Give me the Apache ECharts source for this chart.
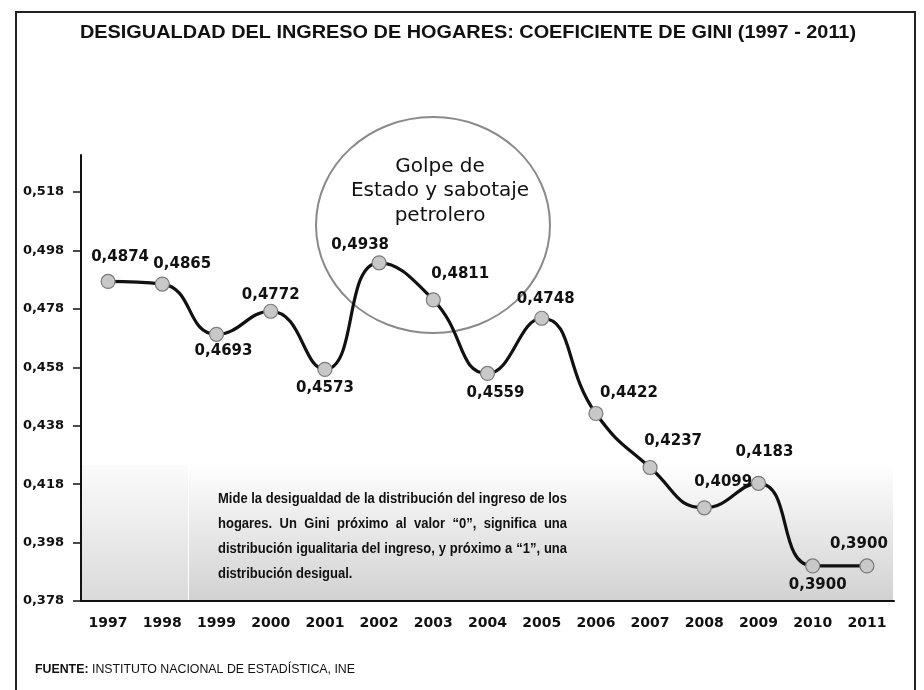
<!DOCTYPE html>
<html>
<head>
<meta charset="utf-8">
<title>Coeficiente de Gini 1997 - 2011</title>
<script src="https://cdn.jsdelivr.net/npm/echarts@6/dist/echarts.min.js"></script>
<style>
  html, body { margin: 0; padding: 0; background: #fff; }
  #chart { width: 924px; height: 690px; }
</style>
</head>
<body>
<div id="chart"></div>
<script>
// datos
const years = ['1997', '1998', '1999', '2000', '2001', '2002', '2003', '2004',
  '2005', '2006', '2007', '2008', '2009', '2010', '2011'];
const gini = [0.4874, 0.4865, 0.4693, 0.4772, 0.4573, 0.4938, 0.4811, 0.4559,
  0.4748, 0.4422, 0.4237, 0.4099, 0.4183, 0.3900, 0.3900];
const yTicks = [0.378, 0.398, 0.418, 0.438, 0.458, 0.478, 0.498, 0.518];

// textos
const titleText = 'DESIGUALDAD DEL INGRESO DE HOGARES: COEFICIENTE DE GINI (1997 - 2011)';
const bubbleText = 'Golpe de\nEstado y sabotaje\npetrolero';
const sourceLabel = 'FUENTE:';
const sourceText = ' INSTITUTO NACIONAL DE ESTADÍSTICA, INE';
const noteLines = [
  'Mide la desigualdad de la distribución del ingreso de los',
  'hogares. Un Gini próximo al valor “0”, significa una',
  'distribución igualitaria del ingreso, y próximo a “1”, una',
  'distribución desigual.'
];

// posición de cada etiqueta respecto a su punto (px)
const labelOffsets = [
  [12, -24], [20, -20], [7, 17], [0, -16], [0, 19], [-19, -18], [27, -26], [8, 20],
  [4, -19], [33, -20], [23, -26], [19, -26], [6, -31], [5, 19], [-8, -22]
];

const arial = '"Liberation Sans", Arial, sans-serif';
const verdana = '"DejaVu Sans", Verdana, sans-serif';

// medir texto (para estrechar la letra como Arial Narrow y justificar)
const ctx = document.createElement('canvas').getContext('2d');
const measure = (txt, font) => { ctx.font = font; return ctx.measureText(txt).width; };

// caja de texto justificada
const justify = (lines, x, y0, width, lineH, size) => {
  const font = `bold ${size}px ${arial}`;
  const sx = width / measure(lines[0], font);
  const out = [];
  lines.forEach((line, li) => {
    const words = line.split(' ');
    const widths = words.map(w => measure(w, font) * sx);
    const total = widths.reduce((a, b) => a + b, 0);
    const last = li === lines.length - 1;
    const gap = last ? measure(' ', font) * sx : (width - total) / (words.length - 1);
    let cx = x;
    words.forEach((w, i) => {
      out.push({
        type: 'text', silent: true, z: 5,
        x: cx, y: y0 + li * lineH, scaleX: sx,
        style: { text: w, font, fill: '#111', textVerticalAlign: 'middle' }
      });
      cx += widths[i] + gap;
    });
  });
  return out;
};

const titleFont = `bold 19px ${arial}`;
const titleScale = 776 / measure(titleText, titleFont);
const srcBold = `bold 12px ${arial}`;
const srcFont = `12px ${arial}`;
const srcScale = 320 / (measure(sourceLabel, srcBold) + measure(sourceText, srcFont));

const chart = echarts.init(document.getElementById('chart'));

const option = {
  animation: false,
  backgroundColor: '#fff',
  grid: { left: 81, right: 30, top: 155, bottom: 89 },
  xAxis: {
    type: 'category',
    data: years,
    boundaryGap: true,
    axisLine: { lineStyle: { color: '#111', width: 2 } },
    axisTick: { length: 6, lineStyle: { color: '#111', width: 1.5 } },
    axisLabel: {
      color: '#111', fontFamily: verdana, fontWeight: 'bold', fontSize: 14, margin: 15
    },
    splitLine: { show: false }
  },
  yAxis: {
    type: 'value',
    min: 0.378,
    max: 0.5307,
    axisLine: { show: true, lineStyle: { color: '#111', width: 2 } },
    axisTick: {
      show: true, length: 8, customValues: yTicks,
      lineStyle: { color: '#111', width: 1.5 }
    },
    axisLabel: {
      customValues: yTicks,
      color: '#111', fontFamily: verdana, fontWeight: 'bold', fontSize: 13, margin: 17,
      formatter: v => v.toFixed(3).replace('.', ',')
    },
    splitLine: { show: false }
  },
  series: [{
    type: 'line',
    smooth: true,
    z: 3,
    data: gini.map((v, i) => ({ value: v, label: { offset: labelOffsets[i] } })),
    lineStyle: { color: '#111', width: 3.2 },
    symbol: 'circle',
    symbolSize: 14,
    itemStyle: { color: '#c8c8c8', borderColor: '#7a7a7a', borderWidth: 1.2 },
    label: {
      show: true,
      position: 'inside',
      color: '#111',
      fontFamily: verdana,
      fontWeight: 'bold',
      fontSize: 15,
      formatter: p => p.value.toFixed(4).replace('.', ',')
    }
  }],
  graphic: [
    // marco
    {
      type: 'rect', silent: true, z: -20,
      shape: { x: 16, y: 12, width: 899, height: 700 },
      style: { fill: '#fff', stroke: '#222', lineWidth: 2 }
    },
    // fondo degradado de la nota
    {
      type: 'rect', silent: true, z: -10,
      shape: { x: 82, y: 465, width: 106, height: 135 },
      style: {
        fill: new echarts.graphic.LinearGradient(0, 0, 0, 1, [
          { offset: 0, color: '#fbfbfb' }, { offset: 1, color: '#dadada' }
        ])
      }
    },
    {
      type: 'rect', silent: true, z: -10,
      shape: { x: 189, y: 462, width: 704, height: 138 },
      style: {
        fill: new echarts.graphic.LinearGradient(0, 0, 0, 1, [
          { offset: 0, color: '#ffffff' }, { offset: 0.5, color: '#e8e8e8' },
          { offset: 1, color: '#d2d2d2' }
        ])
      }
    },
    // título
    {
      type: 'text', silent: true,
      x: 468, y: 33, scaleX: titleScale,
      style: {
        text: titleText, font: titleFont, fill: '#111',
        textAlign: 'center', textVerticalAlign: 'middle'
      }
    },
    // óvalo
    {
      type: 'ellipse', silent: true, z: 1,
      shape: { cx: 433, cy: 225, rx: 117, ry: 108 },
      style: { fill: 'none', stroke: '#8a8a8a', lineWidth: 2 }
    },
    {
      type: 'text', silent: true, z: 5,
      x: 440, y: 191,
      style: {
        text: bubbleText, font: `20px ${verdana}`, fill: '#111',
        textAlign: 'center', textVerticalAlign: 'middle', lineHeight: 24.5
      }
    },
    // fuente
    {
      type: 'text', silent: true,
      x: 35, y: 670, scaleX: srcScale,
      style: {
        text: `{b|${sourceLabel}}${sourceText}`,
        font: srcFont, fill: '#111', textVerticalAlign: 'middle',
        rich: { b: { fontWeight: 'bold', fontSize: 12, fontFamily: arial } }
      }
    },
    ...justify(noteLines, 218, 499, 349, 25, 15)
  ]
};

chart.setOption(option);
</script>
</body>
</html>
